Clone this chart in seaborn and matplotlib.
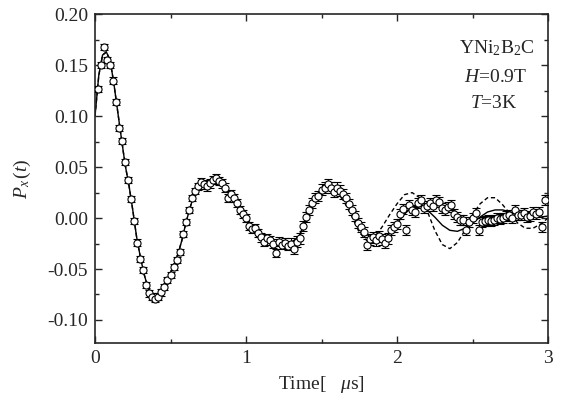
import numpy as np
import pandas as pd
import matplotlib
matplotlib.use("Agg")
import matplotlib.pyplot as plt
from matplotlib.ticker import MultipleLocator, FixedLocator
import seaborn as sns

# ---- data ----
time_us = [0.02, 0.04, 0.06, 0.08, 0.10, 0.12, 0.14, 0.16, 0.18, 0.20,
           0.22, 0.24, 0.26, 0.28, 0.30, 0.32, 0.34, 0.36, 0.38, 0.40,
           0.42, 0.44, 0.46, 0.48, 0.50, 0.52, 0.54, 0.56, 0.58, 0.60,
           0.62, 0.64, 0.66, 0.68, 0.70, 0.72, 0.74, 0.76, 0.78, 0.80,
           0.82, 0.84, 0.86, 0.88, 0.90, 0.92, 0.94, 0.96, 0.98, 1.00,
           1.02, 1.04, 1.06, 1.08, 1.10, 1.12, 1.14, 1.16, 1.18, 1.20,
           1.22, 1.24, 1.26, 1.28, 1.30, 1.32, 1.34, 1.36, 1.38, 1.40,
           1.42, 1.44, 1.46, 1.48, 1.50, 1.52, 1.54, 1.56, 1.58, 1.60,
           1.62, 1.64, 1.66, 1.68, 1.70, 1.72, 1.74, 1.76, 1.78, 1.80,
           1.82, 1.84, 1.86, 1.88, 1.90, 1.92, 1.94, 1.96, 1.98, 2.00,
           2.02, 2.04, 2.06, 2.08, 2.10, 2.12, 2.14, 2.16, 2.18, 2.20,
           2.22, 2.24, 2.26, 2.28, 2.30, 2.32, 2.34, 2.36, 2.38, 2.40,
           2.42, 2.44, 2.46, 2.48, 2.50, 2.52, 2.54, 2.56, 2.58, 2.60,
           2.62, 2.64, 2.66, 2.68, 2.70, 2.72, 2.74, 2.76, 2.78, 2.80,
           2.82, 2.84, 2.86, 2.88, 2.90, 2.92, 2.94, 2.96, 2.98]
px_vals = [0.127, 0.150, 0.168, 0.155, 0.150, 0.135, 0.114, 0.088, 0.076, 0.055,
           0.037, 0.019, -0.003, -0.024, -0.040, -0.051, -0.066, -0.074, -0.077, -0.079,
           -0.077, -0.073, -0.068, -0.061, -0.056, -0.048, -0.041, -0.033, -0.016, -0.004,
           0.008, 0.020, 0.027, 0.031, 0.035, 0.033, 0.031, 0.034, 0.037, 0.039,
           0.036, 0.034, 0.030, 0.020, 0.024, 0.020, 0.015, 0.008, 0.004, 0.000,
           -0.008, -0.011, -0.010, -0.015, -0.019, -0.023, -0.020, -0.022, -0.025, -0.034,
           -0.023, -0.026, -0.024, -0.027, -0.025, -0.030, -0.023, -0.020, -0.008, 0.001,
           0.008, 0.015, 0.020, 0.022, 0.028, 0.030, 0.033, 0.030, 0.026, 0.030,
           0.027, 0.024, 0.020, 0.014, 0.008, 0.002, -0.005, -0.009, -0.014, -0.026,
           -0.021, -0.019, -0.022, -0.018, -0.021, -0.024, -0.020, -0.012, -0.009, -0.006,
           0.004, 0.009, -0.012, 0.013, 0.008, 0.006, 0.015, 0.018, 0.010, 0.012,
           0.015, 0.012, 0.018, 0.016, 0.010, 0.008, 0.011, 0.013, 0.004, 0.001,
           -0.002, -0.002, -0.012, -0.004, 0.000, 0.005, -0.012, -0.004, -0.003, -0.002,
           -0.003, -0.002, 0.000, -0.001, 0.000, 0.002, 0.003, 0.000, 0.008, 0.003,
           0.003, 0.005, 0.001, 0.002, 0.006, 0.004, 0.006, -0.009, 0.018]
err_early = 0.003
err_mid = 0.004
err_late = 0.005

fit_time = [0.000, 0.025, 0.050, 0.075, 0.100, 0.125, 0.150, 0.175, 0.200, 0.225,
            0.250, 0.275, 0.300, 0.325, 0.350, 0.375, 0.400, 0.425, 0.450, 0.475,
            0.500, 0.525, 0.550, 0.575, 0.600, 0.625, 0.650, 0.675, 0.700, 0.750,
            0.80, 0.85, 0.90, 0.95, 1.00, 1.05, 1.10, 1.15, 1.20, 1.25,
            1.30, 1.35, 1.40, 1.45, 1.50, 1.55, 1.60, 1.65, 1.70, 1.75,
            1.80, 1.85, 1.90, 1.95, 2.00, 2.05, 2.10, 2.15, 2.20, 2.25,
            2.30, 2.35, 2.40, 2.45, 2.50, 2.55, 2.60, 2.65, 2.70, 2.75,
            2.80, 2.85, 2.90, 2.95, 3.00]
fit_solid = [0.100, 0.140, 0.160, 0.163, 0.155, 0.132, 0.105, 0.078, 0.052, 0.032,
             0.008, -0.018, -0.038, -0.055, -0.068, -0.076, -0.078, -0.076, -0.070, -0.062,
             -0.054, -0.045, -0.035, -0.022, -0.006, 0.008, 0.020, 0.028, 0.033, 0.036,
             0.037, 0.032, 0.023, 0.012, 0.001, -0.010, -0.018, -0.023, -0.025, -0.025,
             -0.024, -0.018, -0.002, 0.014, 0.024, 0.029, 0.028, 0.021, 0.009, -0.005,
             -0.016, -0.021, -0.021, -0.015, -0.005, 0.004, 0.011, 0.012, 0.008, 0.001,
             -0.007, -0.012, -0.013, -0.010, -0.005, 0.001, 0.006, 0.008, 0.008, 0.006,
             0.003, 0.002, 0.001, 0.001, 0.002]
fit_dashed = [0.100, 0.140, 0.160, 0.163, 0.155, 0.132, 0.105, 0.078, 0.052, 0.032,
              0.008, -0.018, -0.038, -0.055, -0.068, -0.076, -0.078, -0.076, -0.070, -0.062,
              -0.054, -0.045, -0.035, -0.022, -0.006, 0.008, 0.020, 0.028, 0.033, 0.036,
              0.037, 0.032, 0.023, 0.012, 0.001, -0.010, -0.018, -0.023, -0.025, -0.025,
              -0.024, -0.018, -0.002, 0.014, 0.024, 0.029, 0.026, 0.016, 0.002, -0.014,
              -0.022, -0.019, -0.009, 0.003, 0.014, 0.023, 0.025, 0.020, 0.007, -0.012,
              -0.026, -0.030, -0.024, -0.012, 0.003, 0.014, 0.020, 0.020, 0.013, 0.004,
              -0.005, -0.010, -0.010, -0.006, 0.000]

x_ticks = [0, 1, 2, 3]
y_ticks = [-0.10, -0.05, 0.00, 0.05, 0.10, 0.15, 0.20]
y_tick_labels = ["-0.10", "-0.05", "0.00", "0.05", "0.10", "0.15", "0.20"]

# ---- plotting ----
sns.set_style("ticks")
plt.rcParams["font.family"] = ["Liberation Serif", "DejaVu Serif"]
plt.rcParams["mathtext.fontset"] = "custom"
plt.rcParams["mathtext.rm"] = "Liberation Serif"
plt.rcParams["mathtext.it"] = "Liberation Serif:italic"

FS = 14

fig = plt.figure(figsize=(5.62, 4.01), dpi=100)
ax = fig.add_axes([95 / 562, 1 - 343 / 401, (548 - 95) / 562, (343 - 14.3) / 401])

df = pd.DataFrame({"t": time_us, "p": px_vals})
err = np.array([err_early if t < 0.7 else (err_mid if t < 1.3 else err_late) for t in time_us])
fits = pd.DataFrame({"t": fit_time, "solid": fit_solid, "dashed": fit_dashed})

sns.lineplot(data=fits, x="t", y="dashed", ax=ax, color="black", lw=1.0,
             linestyle=(0, (3, 2)), zorder=2)
sns.lineplot(data=fits, x="t", y="solid", ax=ax, color="black", lw=1.0, zorder=2)

ax.errorbar(df["t"], df["p"], yerr=err, fmt="none", ecolor="black",
            elinewidth=0.8, capsize=3, capthick=0.8, zorder=3)
sns.scatterplot(data=df, x="t", y="p", ax=ax, marker="o", s=26,
                facecolor="white", edgecolor="black", linewidth=0.8, zorder=4)

ax.set_xlim(0, 3)
ax.set_ylim(-0.1226, 0.20)
ax.xaxis.set_major_locator(FixedLocator(x_ticks))
ax.xaxis.set_minor_locator(MultipleLocator(0.5))
ax.yaxis.set_major_locator(FixedLocator(y_ticks))
ax.set_yticklabels(y_tick_labels)
ax.yaxis.set_minor_locator(MultipleLocator(0.025))
ax.tick_params(which="both", direction="in", top=True, right=True,
               labelsize=FS, width=1.0)
ax.tick_params(which="major", length=5, pad=5)
ax.tick_params(which="minor", length=3)
for sp in ax.spines.values():
    sp.set_linewidth(1.2)
    sp.set_visible(True)

ax.set_xlabel(r"Time[   $\mu$s]", fontsize=FS, labelpad=5)
ax.set_ylabel(r"$P_x\,(t)$", fontsize=FS, labelpad=10)

ax.text(0.887, 0.882, r"YNi$_2$B$_2$C", transform=ax.transAxes, fontsize=FS,
        ha="center", va="baseline")
ax.text(0.885, 0.795, r"$H$=0.9T", transform=ax.transAxes, fontsize=FS,
        ha="center", va="baseline")
ax.text(0.88, 0.716, r"$T$=3K", transform=ax.transAxes, fontsize=FS,
        ha="center", va="baseline")

fig.savefig("out.png", dpi=100)
